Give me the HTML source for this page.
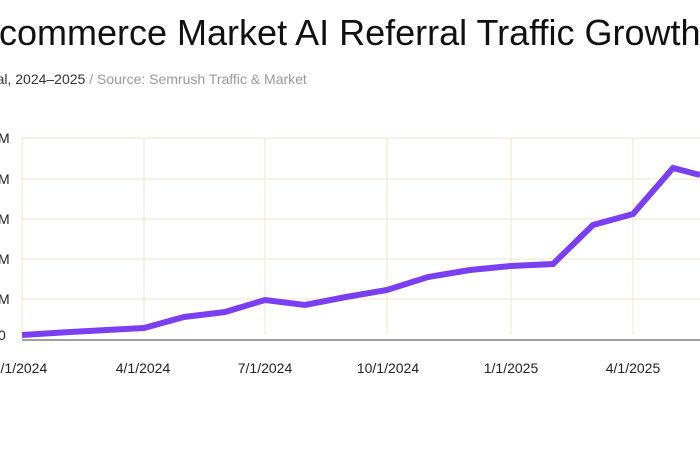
<!DOCTYPE html>
<html><head><style>
body{margin:0;width:700px;height:450px;background:#fff;overflow:hidden;position:relative;font-family:"Liberation Sans",sans-serif}
.t{position:absolute;left:-25px;top:12px;font-size:36px;color:#111;white-space:nowrap;letter-spacing:0px}
.s{position:absolute;left:-33px;top:71px;font-size:14px;color:#999;white-space:nowrap}
.s b{font-weight:normal;color:#333}
</style></head><body>
<div class="t">Ecommerce Market AI Referral Traffic Growth</div>
<div class="s"><b>Global, 2024–2025</b> / Source: Semrush Traffic &amp; Market</div>
<svg width="700" height="450" style="position:absolute;left:0;top:0;overflow:hidden">
<g stroke="#f0e6c8" stroke-width="1">
<line x1="22" y1="138" x2="700" y2="138"/><line x1="22" y1="179" x2="700" y2="179"/>
<line x1="22" y1="219" x2="700" y2="219"/><line x1="22" y1="259" x2="700" y2="259"/>
<line x1="22" y1="299" x2="700" y2="299"/>
<line x1="22" y1="138" x2="22" y2="335"/><line x1="144" y1="138" x2="144" y2="335"/>
<line x1="265" y1="138" x2="265" y2="335"/><line x1="387" y1="138" x2="387" y2="335"/>
<line x1="511" y1="138" x2="511" y2="335"/><line x1="633" y1="138" x2="633" y2="335"/>
</g>
<line x1="22" y1="340" x2="700" y2="340" stroke="#666" stroke-width="1.2"/>
<g font-size="14" fill="#222" font-family="Liberation Sans,sans-serif">
<text x="-2" y="143">M</text><text x="-2" y="184">M</text><text x="-2" y="224">M</text>
<text x="-2" y="264">M</text><text x="-2" y="304">M</text><text x="-2" y="340">0</text>
<g text-anchor="middle"><text x="20" y="373">1/1/2024</text><text x="143" y="373">4/1/2024</text>
<text x="265" y="373">7/1/2024</text><text x="388" y="373">10/1/2024</text>
<text x="511" y="373">1/1/2025</text><text x="633" y="373">4/1/2025</text></g>
</g>
<polyline fill="none" stroke="#7b3ff2" stroke-width="6" stroke-linejoin="miter" points="22,335 70,332 144,328 184,317 225,312 265,300 305,305 346,297 387,290 428,277 470,270 511,266 553,264 593,225 633,214 673,168 700,175"/>
</svg>
</body></html>
